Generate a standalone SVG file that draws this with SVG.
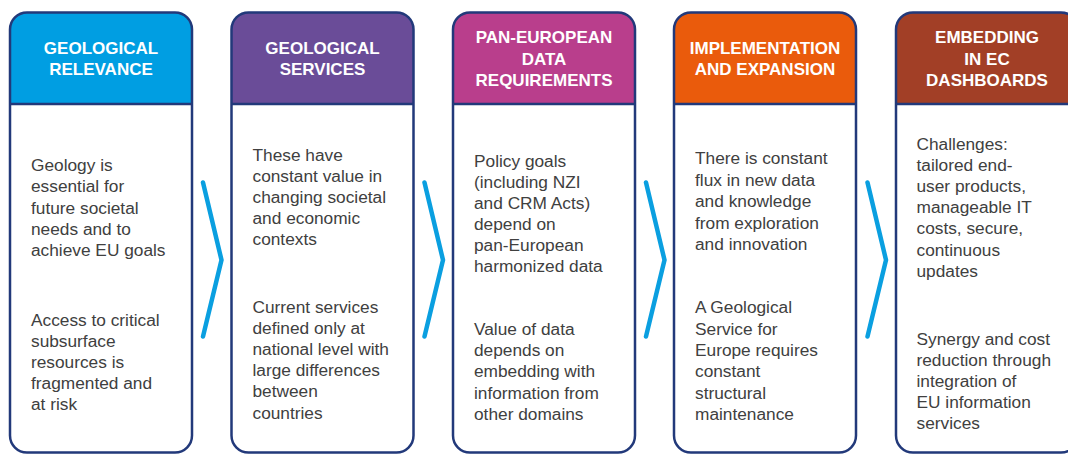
<svg xmlns="http://www.w3.org/2000/svg" width="1068" height="455" viewBox="0 0 1068 455">
  <style>
    .frame { fill: none; stroke: #22397a; stroke-width: 2.5; }
    .divider { stroke: #22397a; stroke-width: 2.5; }
    .head { font-family: "Liberation Sans", Arial, sans-serif; font-weight: bold; font-size: 17px; fill: #ffffff; text-anchor: middle; }
    .body { font-family: "Liberation Sans", Arial, sans-serif; font-size: 17.3px; fill: #404040; }
    .chevron { fill: none; stroke: #0a9fe0; stroke-width: 4.5; stroke-linecap: round; stroke-linejoin: miter; }
  </style>

  <rect width="1068" height="455" fill="#ffffff"/>

  <!-- Column 1 -->
  <g id="geological-relevance">
    <path d="M10,104 V29.5 A17,17 0 0 1 27,12.5 H175 A17,17 0 0 1 192,29.5 V104 Z" fill="#009ee2"/>
    <rect class="frame" x="10" y="12.5" width="182" height="440" rx="17"/>
    <line class="divider" x1="10" y1="104" x2="192" y2="104"/>
    <text class="head" x="101" y="54">GEOLOGICAL</text>
    <text class="head" x="101" y="75.3">RELEVANCE</text>
    <text class="body" x="31">
      <tspan x="31" y="171">Geology is</tspan>
      <tspan x="31" y="192.3">essential for</tspan>
      <tspan x="31" y="213.5">future societal</tspan>
      <tspan x="31" y="234.8">needs and to</tspan>
      <tspan x="31" y="256">achieve EU goals</tspan>
    </text>
    <text class="body" x="31">
      <tspan x="31" y="325.7">Access to critical</tspan>
      <tspan x="31" y="346.8">subsurface</tspan>
      <tspan x="31" y="367.9">resources is</tspan>
      <tspan x="31" y="389">fragmented and</tspan>
      <tspan x="31" y="410.1">at risk</tspan>
    </text>
  </g>

  <!-- Column 2 -->
  <g id="geological-services">
    <path d="M231.5,104 V29.5 A17,17 0 0 1 248.5,12.5 H396.5 A17,17 0 0 1 413.5,29.5 V104 Z" fill="#6a4c98"/>
    <rect class="frame" x="231.5" y="12.5" width="182" height="440" rx="17"/>
    <line class="divider" x1="231.5" y1="104" x2="413.5" y2="104"/>
    <text class="head" x="322.5" y="54">GEOLOGICAL</text>
    <text class="head" x="322.5" y="75.3">SERVICES</text>
    <text class="body">
      <tspan x="252.5" y="160.5">These have</tspan>
      <tspan x="252.5" y="181.7">constant value in</tspan>
      <tspan x="252.5" y="202.9">changing societal</tspan>
      <tspan x="252.5" y="224.1">and economic</tspan>
      <tspan x="252.5" y="245.3">contexts</tspan>
    </text>
    <text class="body">
      <tspan x="252.5" y="312.5">Current services</tspan>
      <tspan x="252.5" y="333.7">defined only at</tspan>
      <tspan x="252.5" y="354.9">national level with</tspan>
      <tspan x="252.5" y="376.1">large differences</tspan>
      <tspan x="252.5" y="397.3">between</tspan>
      <tspan x="252.5" y="418.5">countries</tspan>
    </text>
  </g>

  <!-- Column 3 -->
  <g id="pan-european-data">
    <path d="M453,104 V29.5 A17,17 0 0 1 470,12.5 H618 A17,17 0 0 1 635,29.5 V104 Z" fill="#b93e8c"/>
    <rect class="frame" x="453" y="12.5" width="182" height="440" rx="17"/>
    <line class="divider" x1="453" y1="104" x2="635" y2="104"/>
    <text class="head" x="544" y="43.3">PAN-EUROPEAN</text>
    <text class="head" x="544" y="64.6">DATA</text>
    <text class="head" x="544" y="85.9">REQUIREMENTS</text>
    <text class="body">
      <tspan x="474" y="166.7">Policy goals</tspan>
      <tspan x="474" y="187.7">(including NZI</tspan>
      <tspan x="474" y="208.7">and CRM Acts)</tspan>
      <tspan x="474" y="229.7">depend on</tspan>
      <tspan x="474" y="250.7">pan-European</tspan>
      <tspan x="474" y="271.7">harmonized data</tspan>
    </text>
    <text class="body">
      <tspan x="474" y="335">Value of data</tspan>
      <tspan x="474" y="356.2">depends on</tspan>
      <tspan x="474" y="377.4">embedding with</tspan>
      <tspan x="474" y="398.6">information from</tspan>
      <tspan x="474" y="419.8">other domains</tspan>
    </text>
  </g>

  <!-- Column 4 -->
  <g id="implementation-expansion">
    <path d="M674,104 V29.5 A17,17 0 0 1 691,12.5 H839 A17,17 0 0 1 856,29.5 V104 Z" fill="#ea5b0c"/>
    <rect class="frame" x="674" y="12.5" width="182" height="440" rx="17"/>
    <line class="divider" x1="674" y1="104" x2="856" y2="104"/>
    <text class="head" x="765" y="54">IMPLEMENTATION</text>
    <text class="head" x="765" y="75.3">AND EXPANSION</text>
    <text class="body">
      <tspan x="695" y="164">There is constant</tspan>
      <tspan x="695" y="185.5">flux in new data</tspan>
      <tspan x="695" y="207">and knowledge</tspan>
      <tspan x="695" y="228.5">from exploration</tspan>
      <tspan x="695" y="250">and innovation</tspan>
    </text>
    <text class="body">
      <tspan x="695" y="313.3">A Geological</tspan>
      <tspan x="695" y="334.6">Service for</tspan>
      <tspan x="695" y="355.9">Europe requires</tspan>
      <tspan x="695" y="377.2">constant</tspan>
      <tspan x="695" y="398.5">structural</tspan>
      <tspan x="695" y="419.8">maintenance</tspan>
    </text>
  </g>

  <!-- Column 5 -->
  <g id="ec-dashboards">
    <path d="M896,104 V29.5 A17,17 0 0 1 913,12.5 H1061 A17,17 0 0 1 1078,29.5 V104 Z" fill="#a23f26"/>
    <rect class="frame" x="896" y="12.5" width="182" height="440" rx="17"/>
    <line class="divider" x1="896" y1="104" x2="1078" y2="104"/>
    <text class="head" x="987" y="43.3">EMBEDDING</text>
    <text class="head" x="987" y="64.6">IN EC</text>
    <text class="head" x="987" y="85.9">DASHBOARDS</text>
    <text class="body">
      <tspan x="916.5" y="149.5">Challenges:</tspan>
      <tspan x="916.5" y="170.7">tailored end-</tspan>
      <tspan x="916.5" y="191.9">user products,</tspan>
      <tspan x="916.5" y="213.1">manageable IT</tspan>
      <tspan x="916.5" y="234.3">costs, secure,</tspan>
      <tspan x="916.5" y="255.5">continuous</tspan>
      <tspan x="916.5" y="276.7">updates</tspan>
    </text>
    <text class="body">
      <tspan x="916.5" y="345">Synergy and cost</tspan>
      <tspan x="916.5" y="366">reduction through</tspan>
      <tspan x="916.5" y="387">integration of</tspan>
      <tspan x="916.5" y="408">EU information</tspan>
      <tspan x="916.5" y="429">services</tspan>
    </text>
  </g>

  <!-- Chevron connectors between columns -->
  <g id="connectors">
    <polyline class="chevron" points="203,182.5 221.5,260 203,336.5"/>
    <polyline class="chevron" points="424.5,182.5 443,260 424.5,336.5"/>
    <polyline class="chevron" points="646,182.5 664.5,260 646,336.5"/>
    <polyline class="chevron" points="867.5,182.5 886,260 867.5,336.5"/>
  </g>
</svg>
